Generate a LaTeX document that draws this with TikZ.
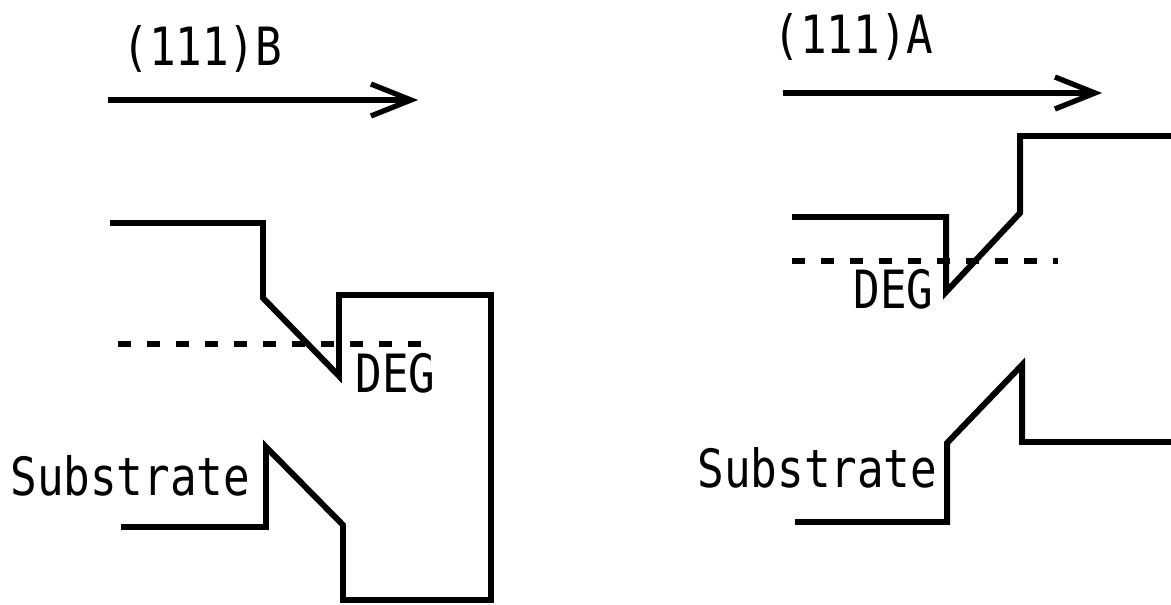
\documentclass[tikz,border=0pt]{standalone}
\usepackage{fontspec}
\usetikzlibrary{arrows.meta}
\newfontfamily\gothic[FakeStretch=0.84]{DejaVu Sans Mono}

\begin{document}
\begin{tikzpicture}
	\useasboundingbox (0, 0) rectangle (23.42, 12.08);
	\tikzset{band/.style={line width=3.4pt, line join=miter}, fermi/.style={line width=3pt, dash pattern={on 7.4pt off 9.1pt}}, lbl/.style={anchor=base west, inner sep=0pt, font=\gothic\fontsize{30}{34}\selectfont}}
	\draw[line width=3pt, -{Straight Barb[length=0.8cm, width=0.64cm, line width=3pt]}] (2.16, 10.08) -- (8.36, 10.08);
	\node[lbl](N1) at (2.44, 10.78){(111)B};
	\draw[band] (2.42, 1.54) -- (5.32, 1.54) -- (5.32, 3.14) -- (6.86, 1.58) -- (6.86, 0.08) -- (9.82, 0.08) -- (9.82, 6.18) -- (6.78, 6.18) -- (6.78, 4.56) -- (5.26, 6.12) -- (5.26, 7.62) -- (2.20, 7.62);
	\draw[fermi] (2.36, 5.20) -- (8.44, 5.20);
	\node[lbl](N2) at (7.10, 4.24){DEG};
	\node[lbl](N3) at (0.20, 2.18){Substrate};
	\draw[line width=3pt, -{Straight Barb[length=0.8cm, width=0.64cm, line width=3pt]}] (15.66, 10.22) -- (22.04, 10.22);
	\node[lbl](N4) at (15.46, 11.02){(111)A};
	\draw[band] (15.84, 7.74) -- (18.92, 7.74) -- (18.92, 6.24) -- (20.40, 7.82) -- (20.40, 9.36) -- (23.42, 9.36);
	\draw[fermi] (15.84, 6.86) -- (21.16, 6.86);
	\node[lbl](N5) at (17.06, 5.92){DEG};
	\draw[band] (15.90, 1.64) -- (18.94, 1.64) -- (18.94, 3.22) -- (20.44, 4.78) -- (20.44, 3.24) -- (23.42, 3.24);
	\node[lbl](N6) at (13.94, 2.34){Substrate};
\end{tikzpicture}
\end{document}
